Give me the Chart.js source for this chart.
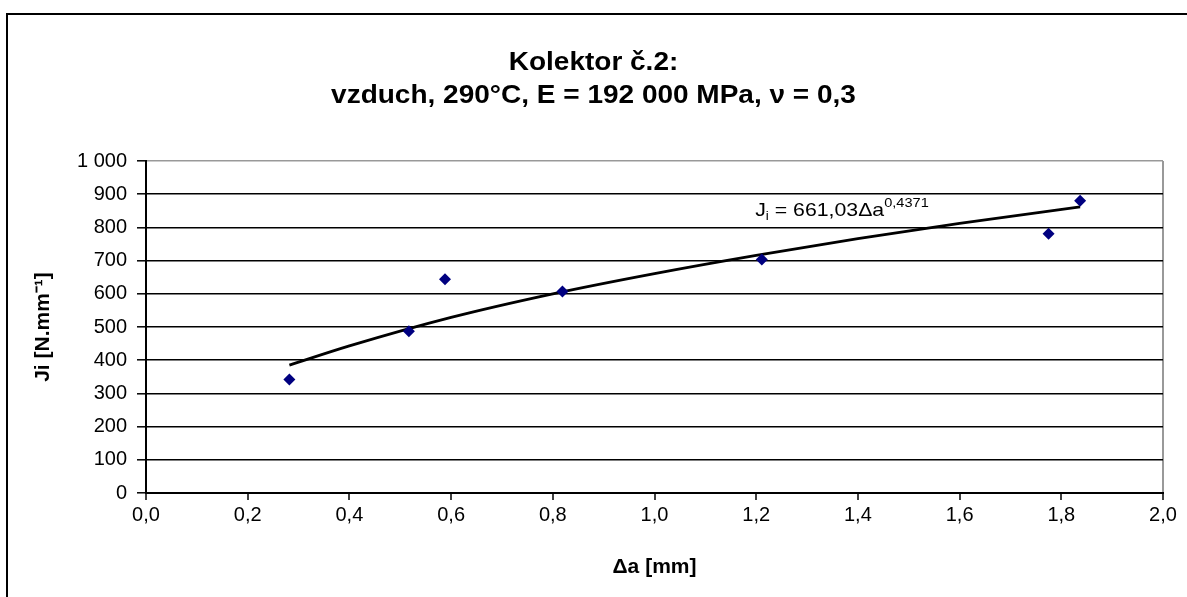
<!DOCTYPE html>
<html>
<head>
<meta charset="utf-8">
<script src="https://cdn.jsdelivr.net/npm/chart.js@4"></script>
<style>
  html, body { margin: 0; padding: 0; background: #fff; }
  #wrap { width: 1187px; height: 597px; position: relative; }
</style>
</head>
<body>
<div id="wrap"><canvas id="c" width="1187" height="597"></canvas></div>
<script>
// ---- data ----
const deltaA = [0.282, 0.517, 0.588, 0.819, 1.211, 1.775, 1.837];
const jValues = [342, 487, 644, 607, 703, 781, 880];
const trendX = [0.282, 0.4, 0.6, 0.8, 1.0, 1.2, 1.4, 1.6, 1.837];
const trendY = [385, 443, 529, 600, 661, 716, 766, 812, 862];
const xTickLabels = ['0,0','0,2','0,4','0,6','0,8','1,0','1,2','1,4','1,6','1,8','2,0'];
const yTickLabels = ['0','100','200','300','400','500','600','700','800','900','1 000'];
const titleLines = ['Kolektor č.2:', 'vzduch, 290°C, E = 192 000 MPa, ν = 0,3'];
const xTitle = 'Δa [mm]';
const yTitle = 'Ji [N.mm⁻¹]';
const eqParts = { base: 'J', sub: 'i', mid: ' = 661,03Δa', sup: '0,4371' };

const FONT = '"Liberation Sans", Arial, sans-serif';

const frame = {
  id: 'frame',
  beforeDraw(chart) {
    const ctx = chart.ctx;
    ctx.save();
    ctx.fillStyle = '#fff';
    ctx.fillRect(0, 0, chart.width, chart.height);
    ctx.strokeStyle = '#000';
    ctx.lineWidth = 2;
    ctx.strokeRect(7, 14, 1400, 800);
    ctx.restore();
  },
  afterDraw(chart) {
    // two-line chart title (slightly widened like the reference)
    const ctx = chart.ctx;
    const cx = chart.width / 2;
    const ys = [63, 96];
    const sx = 1.12;
    ctx.save();
    ctx.fillStyle = '#000';
    ctx.textAlign = 'center';
    ctx.textBaseline = 'middle';
    ctx.font = 'bold 25px ' + FONT;
    titleLines.forEach((t, i) => {
      ctx.save();
      ctx.translate(cx, ys[i]);
      ctx.scale(sx, 1);
      ctx.fillText(t, 0, 0);
      ctx.restore();
    });
    ctx.restore();
  }
};

const equation = {
  id: 'equation',
  afterDatasetsDraw(chart) {
    const ctx = chart.ctx;
    const xs = chart.scales.x, ys = chart.scales.y;
    const x0 = xs.getPixelForValue(1.198);
    const y = ys.getPixelForValue(833);
    const sx = 1.12;
    ctx.save();
    ctx.translate(x0, y);
    ctx.scale(sx, 1);
    let x = 0;
    ctx.fillStyle = '#000';
    ctx.textBaseline = 'alphabetic';
    ctx.textAlign = 'left';
    ctx.font = '19px ' + FONT;
    ctx.fillText(eqParts.base, x, 0);
    x += ctx.measureText(eqParts.base).width;
    ctx.font = '12px ' + FONT;
    ctx.fillText(eqParts.sub, x, 4);
    x += ctx.measureText(eqParts.sub).width;
    ctx.font = '19px ' + FONT;
    ctx.fillText(eqParts.mid, x, 0);
    x += ctx.measureText(eqParts.mid).width;
    ctx.font = '13px ' + FONT;
    ctx.fillText(eqParts.sup, x, -9);
    ctx.restore();
  }
};

new Chart(document.getElementById('c'), {
  type: 'scatter',
  data: {
    datasets: [
      {
        label: 'trend',
        type: 'line',
        data: trendX.map((x, i) => ({ x: x, y: trendY[i] })),
        borderColor: '#000',
        borderWidth: 2.8,
        pointRadius: 0,
        fill: false,
        tension: 0.4,
        cubicInterpolationMode: 'monotone',
        order: 2
      },
      {
        label: 'Ji',
        data: deltaA.map((x, i) => ({ x: x, y: jValues[i] })),
        pointStyle: 'rectRot',
        pointRadius: 6,
        pointHoverRadius: 6,
        backgroundColor: '#000080',
        borderColor: '#000080',
        borderWidth: 0,
        order: 1
      }
    ]
  },
  options: {
    responsive: false,
    animation: false,
    events: [],
    layout: { padding: { left: 0, right: 24, top: 161, bottom: 0 } },
    plugins: {
      legend: { display: false },
      tooltip: { enabled: false },
      title: { display: false }
    },
    scales: {
      x: {
        type: 'linear',
        min: 0, max: 2,
        afterFit(s) { s.height = 104; },
        ticks: {
          stepSize: 0.2,
          autoSkip: false,
          maxRotation: 0,
          padding: 3,
          color: '#000',
          font: { family: FONT, size: 20 },
          callback: (v, i) => xTickLabels[i]
        },
        grid: {
          drawOnChartArea: true,
          color: c => (c.tick && Math.abs(c.tick.value - 2) < 1e-6) ? '#999' : 'rgba(0,0,0,0)',
          lineWidth: 2,
          tickColor: '#000',
          tickLength: 7,
          tickWidth: 1.5
        },
        border: { display: true, color: '#000', width: 2 },
        title: {
          display: true,
          text: xTitle,
          color: '#000',
          font: { family: FONT, size: 21, weight: 'bold' },
          padding: { top: 0, bottom: 17 }
        }
      },
      y: {
        type: 'linear',
        min: 0, max: 1000,
        afterFit(s) { s.width = 146; },
        ticks: {
          stepSize: 100,
          autoSkip: false,
          padding: 10,
          color: '#000',
          font: { family: FONT, size: 20 },
          callback: (v, i) => yTickLabels[i]
        },
        grid: {
          color: c => (c.tick && c.tick.value === 1000) ? '#999' : '#000',
          lineWidth: 1.6,
          tickColor: '#000',
          tickLength: 9,
          tickWidth: 1.5
        },
        border: { display: true, color: '#000', width: 2 },
        title: {
          display: true,
          text: yTitle,
          color: '#000',
          font: { family: FONT, size: 21, weight: 'bold' },
          padding: { top: 31, bottom: 0 }
        }
      }
    }
  },
  plugins: [frame, equation]
});
</script>
</body>
</html>
